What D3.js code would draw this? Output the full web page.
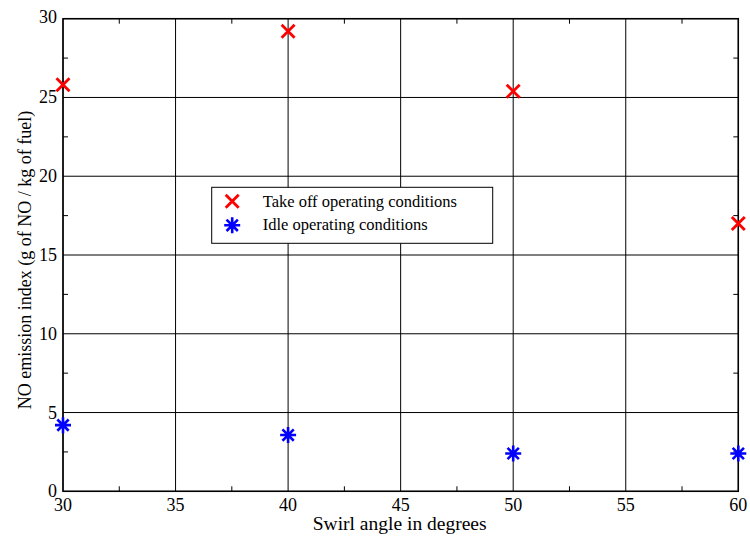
<!DOCTYPE html>
<html>
<head>
<meta charset="utf-8">
<script src="https://cdn.jsdelivr.net/npm/d3@7"></script>
<style>
  body { margin: 0; background: #fff; }
</style>
</head>
<body>
<div id="chart"></div>
<script>
// swirl angle (degrees)
var angles = [30, 40, 50, 60];
// NO emission index, g of NO / kg of fuel
var takeoffValues = [25.8, 29.2, 25.4, 17.0];
var idleValues = [4.2, 3.57, 2.4, 2.4];
var seriesNames = ["Take off operating conditions", "Idle operating conditions"];
var xTicks = [30, 35, 40, 45, 50, 55, 60];
var yTicks = [0, 5, 10, 15, 20, 25, 30];
var xMinor = [32.5, 37.5, 42.5, 47.5, 52.5, 57.5];
var yMinor = [2.5, 7.5, 12.5, 17.5, 22.5, 27.5];

var FONT = "'Liberation Serif', 'Times New Roman', Times, serif";
var W = 750, H = 536;
var margin = { top: 18.7, right: 11.7, bottom: 44.7, left: 63 };
var width = W - margin.left - margin.right,
    height = H - margin.top - margin.bottom;

var svg = d3.select("#chart").append("svg")
    .attr("width", W)
    .attr("height", H)
    .attr("font-family", FONT);

var g = svg.append("g")
    .attr("transform", "translate(" + margin.left + "," + margin.top + ")");

var x = d3.scaleLinear().domain([30, 60]).range([0, width]);
var y = d3.scaleLinear().domain([0, 30]).range([height, 0]);

// grid
g.selectAll(".vgrid").data(xTicks).enter().append("line")
    .attr("x1", d => x(d)).attr("x2", d => x(d))
    .attr("y1", 0).attr("y2", height)
    .attr("stroke", "#000").attr("stroke-width", 1);
g.selectAll(".hgrid").data(yTicks).enter().append("line")
    .attr("y1", d => y(d)).attr("y2", d => y(d))
    .attr("x1", 0).attr("x2", width)
    .attr("stroke", "#000").attr("stroke-width", 1);

// minor ticks, inward on all four sides
var tl = 5;
xMinor.forEach(function(d){
    g.append("line").attr("x1", x(d)).attr("x2", x(d)).attr("y1", height).attr("y2", height - tl)
        .attr("stroke", "#000");
    g.append("line").attr("x1", x(d)).attr("x2", x(d)).attr("y1", 0).attr("y2", tl)
        .attr("stroke", "#000");
});
yMinor.forEach(function(d){
    g.append("line").attr("y1", y(d)).attr("y2", y(d)).attr("x1", 0).attr("x2", tl)
        .attr("stroke", "#000");
    g.append("line").attr("y1", y(d)).attr("y2", y(d)).attr("x1", width).attr("x2", width - tl)
        .attr("stroke", "#000");
});

// frame
g.append("rect")
    .attr("width", width).attr("height", height)
    .attr("fill", "none").attr("stroke", "#000").attr("stroke-width", 1.5);

// tick labels
g.selectAll(".xl").data(xTicks).enter().append("text")
    .attr("x", d => x(d)).attr("y", height + 20)
    .attr("text-anchor", "middle")
    .attr("font-family", FONT)
    .style("font-size", "18px")
    .text(d => d);
g.selectAll(".yl").data(yTicks).enter().append("text")
    .attr("x", -6).attr("y", d => y(d) + (d === 30 ? 4 : 6))
    .attr("text-anchor", "end")
    .attr("font-family", FONT)
    .style("font-size", "18px")
    .text(d => d);

// axis titles
svg.append("text")
    .attr("x", margin.left + width / 2 - 1).attr("y", 530)
    .attr("text-anchor", "middle")
    .attr("font-family", FONT)
    .style("font-size", "19.5px")
    .text("Swirl angle in degrees");
svg.append("text")
    .attr("transform", "translate(31,260) rotate(-90)")
    .attr("text-anchor", "middle")
    .attr("font-family", FONT)
    .style("font-size", "18px")
    .text("NO emission index (g of NO / kg of fuel)");

// markers
function drawCross(sel, cx, cy, r){
    sel.append("path")
        .attr("d", "M" + (cx - r) + "," + (cy - r) + "L" + (cx + r) + "," + (cy + r) +
                   "M" + (cx - r) + "," + (cy + r) + "L" + (cx + r) + "," + (cy - r))
        .attr("stroke", "#ff0000").attr("stroke-width", 2.8).attr("fill", "none");
}
function drawStar(sel, cx, cy, r){
    var a = r * Math.SQRT1_2;
    var d = "M" + cx + "," + (cy - r) + "L" + cx + "," + (cy + r) +
            "M" + (cx - r) + "," + cy + "L" + (cx + r) + "," + cy +
            "M" + (cx - a) + "," + (cy - a) + "L" + (cx + a) + "," + (cy + a) +
            "M" + (cx - a) + "," + (cy + a) + "L" + (cx + a) + "," + (cy - a);
    sel.append("path").attr("d", d)
        .attr("stroke", "#0000ff").attr("stroke-width", 2.6).attr("fill", "none");
}

angles.forEach(function(a, i){
    drawCross(g, x(a), y(takeoffValues[i]), 6.5);
    drawStar(g, x(a), y(idleValues[i]), 8);
});

// legend
var lg = svg.append("g").attr("transform", "translate(211.7,187.3)");
lg.append("rect")
    .attr("width", 281).attr("height", 56)
    .attr("fill", "#fff").attr("stroke", "#000").attr("stroke-width", 1);
drawCross(lg, 20.5, 14, 6.5);
drawStar(lg, 20.5, 38, 8);
lg.append("text").attr("x", 51).attr("y", 19.5).attr("font-family", FONT)
    .style("font-size", "16.5px").text(seriesNames[0]);
lg.append("text").attr("x", 51).attr("y", 43).attr("font-family", FONT)
    .style("font-size", "16.5px").text(seriesNames[1]);
</script>
</body>
</html>
